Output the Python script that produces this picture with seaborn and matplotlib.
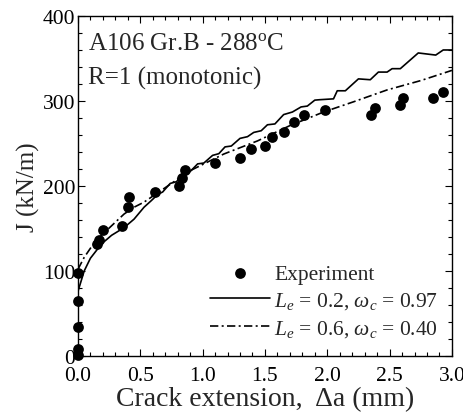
import numpy as np
import pandas as pd
import matplotlib
matplotlib.use("Agg")
import matplotlib.pyplot as plt
import seaborn as sns
from matplotlib.ticker import MultipleLocator

# ---- data ----
exp_x = [0.0, 0.0, 0.0, 0.0, 0.0, 0.15, 0.17, 0.20, 0.35, 0.40, 0.41, 0.62,
         0.81, 0.835, 0.855, 1.10, 1.30, 1.39, 1.50, 1.56, 1.65, 1.73, 1.81,
         1.98, 2.35, 2.38, 2.58, 2.61, 2.85, 2.925]
exp_y = [1, 8, 34, 65, 98, 132, 137, 148, 153, 175, 187, 193,
         200, 209, 219, 227, 233, 243, 247, 258, 263, 275, 284,
         289, 284, 292, 295, 303, 303, 311]

sol_x = [0.0, 0.05, 0.10, 0.19, 0.27, 0.37, 0.45, 0.53, 0.59, 0.64, 0.68, 0.74,
         0.79, 0.85, 0.90, 0.96, 1.01, 1.08, 1.13, 1.18, 1.23, 1.30, 1.36, 1.41,
         1.47, 1.52, 1.58, 1.65, 1.72, 1.79, 1.84, 1.90, 1.94, 2.05, 2.08, 2.145,
         2.25, 2.345, 2.41, 2.48, 2.52, 2.586, 2.73, 2.87, 2.93, 3.0]
sol_y = [76, 100, 115, 132, 142, 151, 161, 175, 183, 190, 193, 203,
         205, 215, 217, 226, 227, 236, 238, 246, 247, 256, 258, 263,
         265, 272, 273, 284, 287, 293, 294, 301, 301.5, 302.5, 312, 312,
         326, 325, 334, 334, 338, 338, 356.5, 354, 360, 360]

dd_x = [0.0, 0.05, 0.106, 0.186, 0.29, 0.37, 0.45, 0.53, 0.61, 0.74, 0.90,
        1.17, 1.44, 1.70, 1.97, 2.21, 2.48, 2.75, 3.0]
dd_y = [102, 116, 128, 141.6, 156, 167, 175, 181, 189, 202, 218,
        237.6, 253, 271, 287, 299, 313, 324, 336]

xticks = [0.0, 0.5, 1.0, 1.5, 2.0, 2.5, 3.0]
yticks = [0, 100, 200, 300, 400]

# ---- style ----
sns.set_theme(style="ticks")
plt.rcParams["font.family"] = ["Liberation Serif", "DejaVu Serif"]
plt.rcParams["mathtext.fontset"] = "custom"
plt.rcParams["mathtext.rm"] = "Liberation Serif"
plt.rcParams["mathtext.it"] = "Liberation Serif:italic"
plt.rcParams["mathtext.bf"] = "Liberation Serif:bold"

fig = plt.figure(figsize=(4.64, 4.14), dpi=100)
ax = fig.add_axes([0.168, 0.1377, 0.806, 0.8213])

exp_df = pd.DataFrame({"x": exp_x, "y": exp_y})
sol_df = pd.DataFrame({"x": sol_x, "y": sol_y})
dd_df = pd.DataFrame({"x": dd_x, "y": dd_y})

sns.scatterplot(data=exp_df, x="x", y="y", ax=ax, color="black", s=60,
                edgecolor="black", linewidth=0, label="Experiment", zorder=3,
                clip_on=False)
sns.lineplot(data=sol_df, x="x", y="y", ax=ax, color="black", lw=1.2,
             sort=False, estimator=None,
             label=r"$L_e$ = 0.2, $\omega_c$ = 0.97")
sns.lineplot(data=dd_df, x="x", y="y", ax=ax, color="black", lw=1.2,
             sort=False, estimator=None,
             label=r"$L_e$ = 0.6, $\omega_c$ = 0.40")
ax.lines[-1].set_linestyle((0, (5, 2, 1.2, 2)))

ax.set_xlim(0, 3.0)
ax.set_ylim(0, 400)
ax.set_xticks(xticks)
ax.set_yticks(yticks)
ax.set_xticklabels([f"{v:.1f}" for v in xticks])
ax.set_yticklabels([str(v) for v in yticks])
ax.xaxis.set_minor_locator(MultipleLocator(0.1))
ax.yaxis.set_minor_locator(MultipleLocator(20))
ax.tick_params(which="both", direction="in", top=True, right=True,
               labelsize=15.5, colors="black", width=0.8)
ax.tick_params(axis="x", pad=7)
ax.tick_params(axis="y", pad=2)
ax.tick_params(which="major", length=5)
ax.tick_params(which="minor", length=3)
for sp in ax.spines.values():
    sp.set_linewidth(1.0)
    sp.set_color("black")

ax.set_xlabel("Crack extension,  \u0394a (mm)", fontsize=20, labelpad=1)
ax.set_ylabel("J (kN/m)", fontsize=18, labelpad=2)

ax.text(0.027, 0.903, r"A106 Gr.B - 288$^{\mathrm{o}}$C", transform=ax.transAxes,
        fontsize=18, va="baseline", ha="left")
ax.text(0.027, 0.80, "R=1 (monotonic)", transform=ax.transAxes,
        fontsize=18, va="baseline", ha="left")

leg = ax.legend(loc="lower right", bbox_to_anchor=(0.97, 0.045), frameon=False,
                fontsize=15.5, handlelength=2.8, handletextpad=0.2,
                labelspacing=0.3, borderaxespad=0.0, borderpad=0.1,
                markerscale=1.0)

fig.savefig("out.png", dpi=100)
